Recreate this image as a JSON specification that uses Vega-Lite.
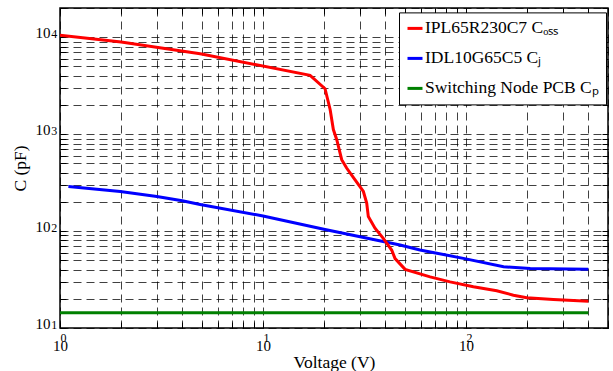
{
  "$schema": "https://vega.github.io/schema/vega-lite/v6.json",
  "width": 548,
  "height": 320,
  "autosize": {"type": "none"},
  "padding": {"left": 60, "top": 8, "right": 5, "bottom": 43},
  "background": "white",
  "config": {
    "font": "Liberation Serif",
    "view": {"stroke": "#000", "strokeWidth": 1.5},
    "axis": {"domain": false, "labelColor": "#000", "titleColor": "#000", "titleFontWeight": "normal", "tickColor": "#000", "labelFont": "Liberation Serif", "titleFont": "Liberation Serif"}
  },
  "data": {
    "values": [
      {"V": 1, "C": 14.4, "s": "Switching Node PCB Cₚ"},
      {"V": 400, "C": 14.4, "s": "Switching Node PCB Cₚ"},
      {"V": 1.1, "C": 288, "s": "IDL10G65C5 Cⱼ"},
      {"V": 1.98, "C": 256, "s": "IDL10G65C5 Cⱼ"},
      {"V": 3.0, "C": 227, "s": "IDL10G65C5 Cⱼ"},
      {"V": 4.0, "C": 205, "s": "IDL10G65C5 Cⱼ"},
      {"V": 4.9, "C": 188, "s": "IDL10G65C5 Cⱼ"},
      {"V": 10, "C": 143, "s": "IDL10G65C5 Cⱼ"},
      {"V": 20.2, "C": 104, "s": "IDL10G65C5 Cⱼ"},
      {"V": 47.3, "C": 71.8, "s": "IDL10G65C5 Cⱼ"},
      {"V": 59.3, "C": 63.7, "s": "IDL10G65C5 Cⱼ"},
      {"V": 97, "C": 52.3, "s": "IDL10G65C5 Cⱼ"},
      {"V": 153, "C": 42.8, "s": "IDL10G65C5 Cⱼ"},
      {"V": 207, "C": 41.2, "s": "IDL10G65C5 Cⱼ"},
      {"V": 400, "C": 40.3, "s": "IDL10G65C5 Cⱼ"},
      {"V": 1, "C": 10500, "s": "IPL65R230C7 Cₒₛₛ"},
      {"V": 2, "C": 8910, "s": "IPL65R230C7 Cₒₛₛ"},
      {"V": 3.1, "C": 7800, "s": "IPL65R230C7 Cₒₛₛ"},
      {"V": 4.9, "C": 6760, "s": "IPL65R230C7 Cₒₛₛ"},
      {"V": 17.05, "C": 4040, "s": "IPL65R230C7 Cₒₛₛ"},
      {"V": 20.2, "C": 2940, "s": "IPL65R230C7 Cₒₛₛ"},
      {"V": 21.4, "C": 1795, "s": "IPL65R230C7 Cₒₛₛ"},
      {"V": 22.2, "C": 1114, "s": "IPL65R230C7 Cₒₛₛ"},
      {"V": 23.07, "C": 877, "s": "IPL65R230C7 Cₒₛₛ"},
      {"V": 24.4, "C": 545, "s": "IPL65R230C7 Cₒₛₛ"},
      {"V": 25.8, "C": 447, "s": "IPL65R230C7 Cₒₛₛ"},
      {"V": 28.4, "C": 338, "s": "IPL65R230C7 Cₒₛₛ"},
      {"V": 31.2, "C": 256, "s": "IPL65R230C7 Cₒₛₛ"},
      {"V": 32.4, "C": 194, "s": "IPL65R230C7 Cₒₛₛ"},
      {"V": 33, "C": 141, "s": "IPL65R230C7 Cₒₛₛ"},
      {"V": 35.6, "C": 107, "s": "IPL65R230C7 Cₒₛₛ"},
      {"V": 39.1, "C": 84, "s": "IPL65R230C7 Cₒₛₛ"},
      {"V": 43.0, "C": 63.7, "s": "IPL65R230C7 Cₒₛₛ"},
      {"V": 44.7, "C": 52, "s": "IPL65R230C7 Cₒₛₛ"},
      {"V": 50.1, "C": 40.3, "s": "IPL65R230C7 Cₒₛₛ"},
      {"V": 66.5, "C": 33.7, "s": "IPL65R230C7 Cₒₛₛ"},
      {"V": 83.4, "C": 29.9, "s": "IPL65R230C7 Cₒₛₛ"},
      {"V": 108.6, "C": 26.6, "s": "IPL65R230C7 Cₒₛₛ"},
      {"V": 141.6, "C": 24.2, "s": "IPL65R230C7 Cₒₛₛ"},
      {"V": 171, "C": 21.8, "s": "IPL65R230C7 Cₒₛₛ"},
      {"V": 199, "C": 20.5, "s": "IPL65R230C7 Cₒₛₛ"},
      {"V": 269, "C": 19.7, "s": "IPL65R230C7 Cₒₛₛ"},
      {"V": 400, "C": 18.9, "s": "IPL65R230C7 Cₒₛₛ"}
    ]
  },
  "layer": [
    {
      "mark": {"type": "line", "strokeWidth": 3, "clip": true},
      "encoding": {
        "x": {
          "field": "V", "type": "quantitative",
          "scale": {"type": "log", "domain": [1, 500], "nice": false},
          "axis": {
            "orient": "bottom",
            "values": [1,2,3,4,5,6,7,8,9,10,20,30,40,50,60,70,80,90,100,200,300,400,500],
            "labelExpr": "datum.value == 1 || datum.value == 10 || datum.value == 100 ? '10' : ''",
            "labelFlush": false, "labelOverlap": false,
            "labelFontSize": 15, "labelPadding": 28, "labelBaseline": "alphabetic", "labelDx": -3.3,
            "grid": true, "gridDash": [8, 5], "gridColor": "#000", "gridOpacity": 0.75, "gridWidth": 1,
            "tickSize": -6, "tickWidth": 1,
            "title": "Voltage (V)", "titleFontSize": 17.5, "titlePadding": 0
          }
        },
        "y": {
          "field": "C", "type": "quantitative",
          "scale": {"type": "log", "domain": [10, 20000], "nice": false},
          "axis": {
            "orient": "left",
            "values": [10,20,30,40,50,60,70,80,90,100,200,300,400,500,600,700,800,900,1000,2000,3000,4000,5000,6000,7000,8000,9000,10000,20000],
            "labelExpr": "datum.value == 10 || datum.value == 100 || datum.value == 1000 || datum.value == 10000 ? '10' : ''",
            "labelFlush": false, "labelOverlap": false,
            "labelFontSize": 15, "labelPadding": 16, "labelBaseline": "alphabetic", "labelDy": 5.5,
            "grid": true, "gridDash": [8, 5], "gridColor": "#000", "gridOpacity": 0.75, "gridWidth": 1,
            "tickSize": -6, "tickWidth": 1,
            "title": "C (pF)", "titleFontSize": 17.5, "titlePadding": 6
          }
        },
        "color": {
          "field": "s", "type": "nominal",
          "scale": {
            "domain": ["IPL65R230C7 Cₒₛₛ", "IDL10G65C5 Cⱼ", "Switching Node PCB Cₚ"],
            "range": ["#ff0000", "#0000ff", "#008000"]
          },
          "legend": {
            "orient": "none", "legendX": 339, "legendY": 4.4,
            "title": null,
            "strokeColor": "#000", "fillColor": "#fff", "padding": 7,
            "symbolType": "stroke", "symbolStrokeWidth": 3, "symbolSize": 225,
            "labelFontSize": 17.5, "labelFont": "Liberation Serif", "labelColor": "#000",
            "rowPadding": 12, "labelOffset": 1, "labelLimit": 400
          }
        }
      }
    },
    {
      "mark": {"type": "line", "opacity": 0},
      "encoding": {
        "x": {
          "field": "V", "type": "quantitative",
          "axis": {
            "orient": "top",
            "values": [1,2,3,4,5,6,7,8,9,10,20,30,40,50,60,70,80,90,100,200,300,400,500],
            "labels": false, "grid": false, "tickSize": -6, "title": null
          }
        },
        "y": {
          "field": "C", "type": "quantitative",
          "axis": {
            "orient": "right",
            "values": [10,20,30,40,50,60,70,80,90,100,200,300,400,500,600,700,800,900,1000,2000,3000,4000,5000,6000,7000,8000,9000,10000,20000],
            "labels": false, "grid": false, "tickSize": -6, "title": null
          }
        }
      }
    },
    {
      "mark": {"type": "line", "opacity": 0},
      "encoding": {
        "x": {
          "field": "V", "type": "quantitative",
          "axis": {
            "orient": "bottom",
            "values": [1, 10, 100],
            "labelExpr": "datum.value == 1 ? '0' : datum.value == 10 ? '1' : '2'",
            "labelFlush": false, "labelOverlap": false,
            "labelFontSize": 12, "labelPadding": 13.7, "labelBaseline": "alphabetic", "labelAlign": "left", "labelDx": 5,
            "ticks": false, "tickSize": 0, "grid": false, "title": null
          }
        },
        "y": {
          "field": "C", "type": "quantitative",
          "axis": {
            "orient": "left",
            "values": [10, 100, 1000, 10000],
            "labelExpr": "datum.value == 10 ? '1' : datum.value == 100 ? '2' : datum.value == 1000 ? '3' : '4'",
            "labelFlush": false, "labelOverlap": false,
            "labelFontSize": 12, "labelPadding": 9.3, "labelBaseline": "alphabetic", "labelAlign": "left", "labelDy": 0.5,
            "ticks": false, "tickSize": 0, "grid": false, "title": null
          }
        }
      }
    }
  ],
  "resolve": {"axis": {"x": "independent", "y": "independent"}}
}
